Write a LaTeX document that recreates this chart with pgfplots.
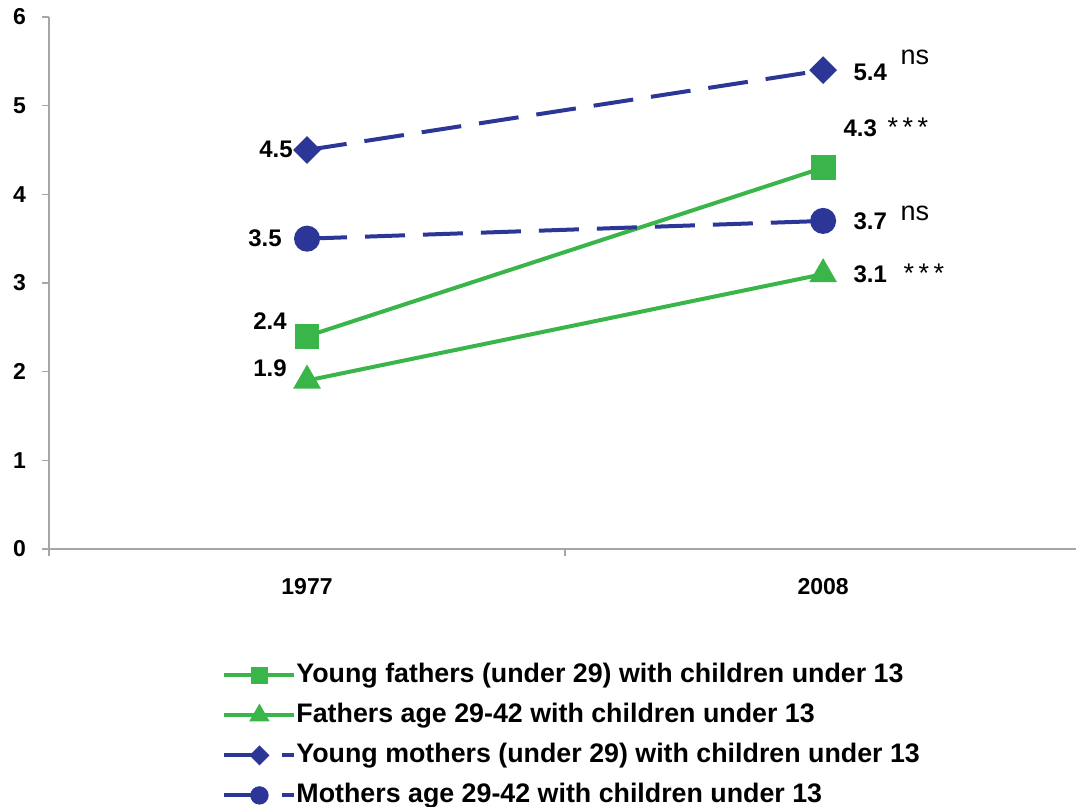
\documentclass[border=0pt]{standalone}
\usepackage{pgfplots}
\pgfplotsset{compat=1.18}
\usepackage{fontspec}
\setmainfont{Liberation Sans}
\definecolor{cgreen}{RGB}{57,181,74}
\definecolor{cblue}{RGB}{44,54,150}
\begin{document}
\begin{tikzpicture}
\begin{axis}[
  at={(0pt,0pt)}, anchor=south west,
  scale only axis,
  width=513.5pt, height=266pt,
  xmin=0, xmax=1.990, ymin=0, ymax=6,
  clip=false,
  axis x line=bottom, axis y line=left,
  axis line style={-, draw=gray!70, line width=0.9pt},
  tick style={draw=gray!70, line width=0.8pt},
  tick align=outside, major tick length=3.5pt,
  xtick={0,1}, xticklabels={},
  extra x ticks={0.5,1.5}, extra x tick labels={1977,2008},
  extra x tick style={major tick length=0pt, tick label style={yshift=-11pt}},
  ytick={0,1,2,3,4,5,6},
  /pgf/number format/assume math mode=true,
  ticklabel style={font=\bfseries\fontsize{11.5}{13.5}\selectfont},
  yticklabel style={xshift=-4.5pt},
  legend style={at={(0.1685,-0.2124)}, anchor=north west, draw=none, fill=none,
    inner sep=0pt, font=\bfseries\fontsize{13.4}{15.5}\selectfont, row sep=7pt,
    nodes={inner sep=0pt, text height=10pt, text depth=3pt}},
  legend cell align=left,
  legend image code/.code={\draw[mark repeat=2, mark phase=2, #1, every mark/.append style={scale=0.65}] plot coordinates {(0pt,0pt) (17.5pt,0pt) (35pt,0pt)};},
]
\addplot[cgreen, line width=2pt, mark=square*, mark size=5.2pt] coordinates {(0.5,2.4) (1.5,4.3)};
\addlegendentry{Young fathers (under 29) with children under 13}
\addplot[cgreen, line width=2pt, mark=triangle*, mark size=6pt] coordinates {(0.5,1.9) (1.5,3.1)};
\addlegendentry{Fathers age 29-42 with children under 13}
\addplot[cblue, line width=2pt, dash pattern=on 20pt off 9pt, mark=square*, mark size=3.9pt, mark options={solid, rotate=45}] coordinates {(0.5,4.5) (1.5,5.4)};
\addlegendentry{Young mothers (under 29) with children under 13}
\addplot[cblue, line width=2pt, dash pattern=on 20pt off 9pt, mark=*, mark size=5.5pt, mark options={solid}] coordinates {(0.5,3.5) (1.5,3.7)};
\addlegendentry{Mothers age 29-42 with children under 13}

\tikzset{dl/.style={inner sep=0pt, font=\bfseries\fontsize{12}{14}\selectfont},
         sg/.style={inner sep=0pt, anchor=base west, font=\fontsize{13.5}{16}\selectfont}}
\node[dl, anchor=base west] at (axis cs:1.5581,5.289) {5.4};
\node[dl, anchor=base west] at (axis cs:1.5388,4.647) {4.3};
\node[dl, anchor=base west] at (axis cs:1.5581,3.598) {3.7};
\node[dl, anchor=base west] at (axis cs:1.5581,3.011) {3.1};
\node[dl, anchor=base east] at (axis cs:0.4729,4.421) {4.5};
\node[dl, anchor=base east] at (axis cs:0.4516,3.406) {3.5};
\node[dl, anchor=base east] at (axis cs:0.4612,2.470) {2.4};
\node[dl, anchor=base east] at (axis cs:0.4612,1.940) {1.9};
\node[sg] at (axis cs:1.6492,5.459) {ns};
\node[sg] at (axis cs:1.6240,4.647) {*\,*\,*};
\node[sg] at (axis cs:1.6492,3.710) {ns};
\node[sg] at (axis cs:1.6550,3.000) {*\,*\,*};
\end{axis}
\pgfresetboundingbox
\path (-24.5pt,-129pt) rectangle (513.5pt,274.5pt);
\end{tikzpicture}
\end{document}
